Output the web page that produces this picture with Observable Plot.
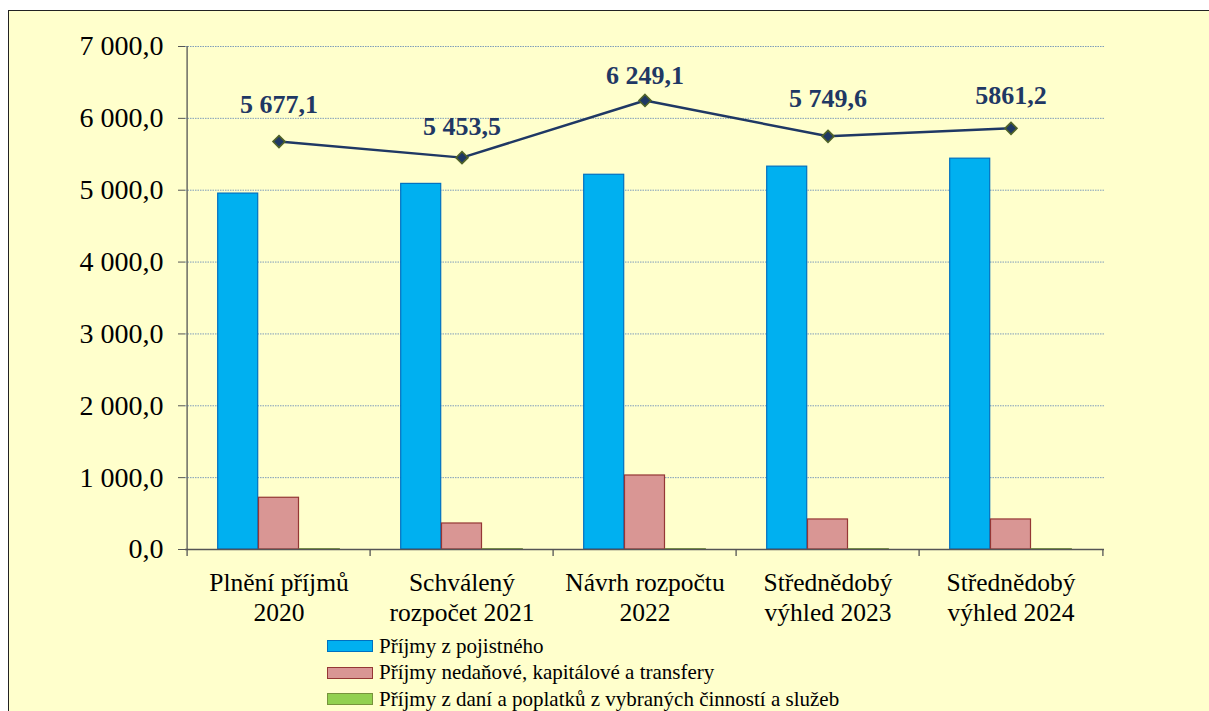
<!DOCTYPE html>
<html><head><meta charset="utf-8">
<script src="https://cdn.jsdelivr.net/npm/d3@7"></script>
<script src="https://cdn.jsdelivr.net/npm/@observablehq/plot@0.6"></script>
<style>
html,body{margin:0;padding:0;background:#fff;overflow:hidden;}
#frame{position:absolute;left:8px;top:10px;width:1210px;height:720px;background:#FFFFCC;border-left:1px solid #222;border-top:1px solid #222;}
#chart{position:absolute;left:0;top:0;}
#legend{position:absolute;left:318px;top:622px;font-family:"Liberation Serif","DejaVu Serif";font-size:21px;color:#000;}
.row{display:flex;align-items:center;height:26.5px;}
.sw{width:44px;height:10px;margin-right:6px;border:1px solid;}
</style></head>
<body><div id="frame"><div id="chart"></div><div id="legend"></div></div>
<script>
const categories = ["c2020","c2021","c2022","c2023","c2024"];
const categoryLabels = ["Plnění příjmů\n2020","Schválený\nrozpočet 2021","Návrh rozpočtu\n2022","Střednědobý\nvýhled 2023","Střednědobý\nvýhled 2024"];
const seriesNames = ["Příjmy z pojistného","Příjmy nedaňové, kapitálové a transfery","Příjmy z daní a poplatků z vybraných činností a služeb"];
const pojistne = [4953, 5088, 5215, 5328, 5439];
const nedanove = [720, 362, 1030, 418, 418];
const dane = [4, 4, 4, 4, 4];
const totals = [5677.1, 5453.5, 6249.1, 5749.6, 5861.2];
const totalLabels = ["5 677,1","5 453,5","6 249,1","5 749,6","5861,2"];
const yTicks = [0,1000,2000,3000,4000,5000,6000,7000];
const yTickLabels = ["0,0","1 000,0","2 000,0","3 000,0","4 000,0","5 000,0","6 000,0","7 000,0"];

const FONT = "'Liberation Serif','DejaVu Serif'";
const fills = ["#00B0F0","#D99694","#92D050"];
const strokes = ["#0070C0","#953735","#77933C"];

const W = 1200, H = 630, mL = 176, mR = 105, mT = 35, mB = 92;
const bw = (W - mL - mR) / categories.length;
const barW = bw * 0.222;
const padOuter = (bw - 3 * barW) / 2;

const seriesValues = [pojistne, nedanove, dane];
const barMarks = seriesValues.map((vals, i) => Plot.barY(
  categories.map((c, j) => ({c, v: vals[j]})),
  {x: "c", y: "v", fill: fills[i], stroke: strokes[i], strokeWidth: 1.2,
   insetLeft: padOuter + i * barW, insetRight: bw - padOuter - (i + 1) * barW}
));
const lineData = categories.map((c, j) => ({c, v: totals[j], label: totalLabels[j]}));
const tickLab = new Map(yTicks.map((t, i) => [t, yTickLabels[i]]));
const catLab = new Map(categories.map((c, i) => [c, categoryLabels[i]]));

const squareDiamond = {draw(ctx, size) {
  const h = Math.sqrt(size / Math.PI);
  ctx.moveTo(0, -h); ctx.lineTo(h, 0); ctx.lineTo(0, h); ctx.lineTo(-h, 0); ctx.closePath();
}};

const labelOffsets = [-37, -31, -25, -38, -33];
const labelMarks = lineData.map((d, i) => Plot.text([d], {x: "c", y: "v", text: "label", dy: labelOffsets[i],
  fontSize: 26, fontWeight: "bold", fill: "#1F3864", fontFamily: FONT}));

const chart = Plot.plot({
  width: W, height: H, marginLeft: mL, marginRight: mR, marginTop: mT, marginBottom: mB,
  style: {background: "transparent", fontFamily: FONT},
  x: {domain: categories, padding: 0, label: null},
  y: {domain: [0, 7000], label: null},
  marks: [
    Plot.gridY(yTicks.filter(t => t > 0), {stroke: "#7F9DBB", strokeOpacity: 1, strokeWidth: 1, strokeDasharray: "1.5,1"}),
    ...barMarks,
    Plot.ruleY([0], {stroke: "#555", strokeWidth: 1.3}),
    Plot.ruleX(categories, {x: d => d, dx: -bw / 2, y1: 0, y2: -97, stroke: "#555", strokeWidth: 1.3}),
    Plot.ruleX([categories[categories.length - 1]], {x: d => d, dx: bw / 2, y1: 0, y2: -97, stroke: "#555", strokeWidth: 1.3}),
    Plot.ruleX([categories[0]], {x: d => d, dx: -bw / 2, y1: 0, y2: 7000, stroke: "#555", strokeWidth: 1.3}),
    Plot.axisY({ticks: yTicks, tickSize: 7, tickPadding: 15, tickFormat: t => tickLab.get(t), fontSize: 28, stroke: "#555", fill: "#000", label: null, fontFamily: FONT}),
    Plot.axisX({tickSize: 0, tickPadding: 20, tickFormat: c => catLab.get(c), fontSize: 25.5, lineHeight: 1.18, fill: "#000", label: null, fontFamily: FONT}),
    Plot.line(lineData, {x: "c", y: "v", stroke: "#1F3864", strokeWidth: 2.5}),
    Plot.dot(lineData, {x: "c", y: "v", symbol: squareDiamond, r: 6, fill: "#1F3864", stroke: "#4F6228", strokeWidth: 1.6}),
    ...labelMarks
  ]
});
document.getElementById("chart").appendChild(chart);

const legend = document.getElementById("legend");
seriesNames.forEach((n, i) => {
  const r = document.createElement("div"); r.className = "row";
  const s = document.createElement("div"); s.className = "sw"; s.style.background = fills[i]; s.style.borderColor = strokes[i];
  const t = document.createElement("span"); t.textContent = n;
  r.appendChild(s); r.appendChild(t); legend.appendChild(r);
});
</script></body></html>
